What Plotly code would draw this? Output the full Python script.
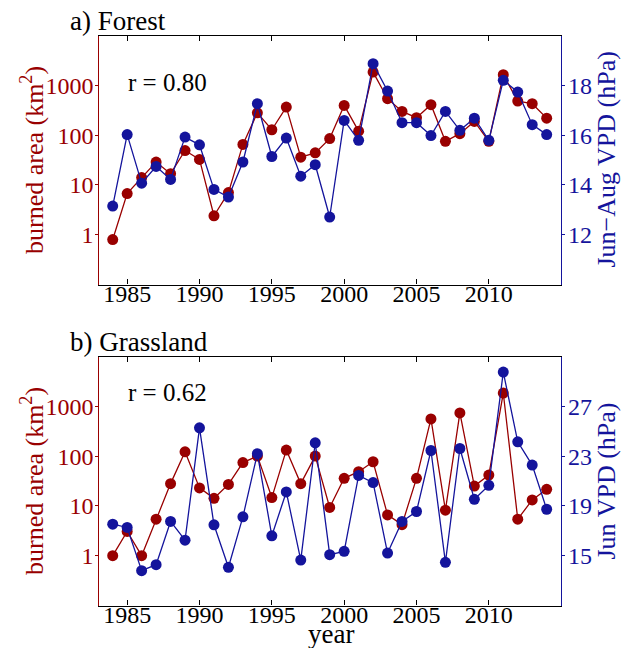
import plotly.graph_objects as go

years = list(range(1984, 2015))

forest_area = [0.8, 6.7, 14, 28.7, 16.8, 49, 32.5, 2.4, 7.0, 65, 280, 128, 365, 36, 44, 85,
               395, 120, 1840, 538, 299, 224, 408, 75, 107, 188, 75, 1633, 482, 427, 219]
forest_vpd = [13.15, 16.02, 14.07, 14.74, 14.22, 15.92, 15.61, 13.82, 13.51, 14.92, 17.26, 15.14,
              15.88, 14.35, 14.81, 12.71, 16.59, 15.79, 18.87, 17.77, 16.5, 16.5, 15.98, 16.95,
              16.19, 16.68, 15.79, 18.2, 17.73, 16.42, 16.02]
grass_area = [1.0, 3.07, 1.0, 5.4, 28, 122, 23, 14.2, 27, 74, 100, 14.7, 132, 28, 100, 9.3,
              35.8, 48.6, 77, 6.6, 4.2, 35.8, 558, 8.2, 736, 25, 41.7, 1848, 5.4, 13.2, 21.5]
grass_vpd = [17.53, 17.27, 13.8, 14.28, 17.75, 16.25, 25.27, 17.48, 14.07, 18.12, 23.19, 16.6,
             20.12, 14.65, 24.07, 15.08, 15.35, 21.45, 20.87, 15.21, 17.75, 18.55, 23.45, 14.47,
             23.61, 19.53, 20.65, 29.75, 24.15, 22.28, 18.73]

x_ticks = [1985, 1990, 1995, 2000, 2005, 2010]
area_ticks = [1, 10, 100, 1000]
area_ticktext = ["1", "10", "100", "1000"]
forest_vpd_ticks = [12, 14, 16, 18]
grass_vpd_ticks = [15, 19, 23, 27]

RED = "#990000"
BLUE = "#14149c"
FONT = "Liberation Serif"
W, H = 628, 648

def px_x(v):
    return v / W

def px_y(v):
    return 1 - v / H

fig = go.Figure()

mk = dict(size=11)
fig.add_trace(go.Scatter(x=years, y=forest_area, mode="lines+markers", line=dict(color=RED, width=1.3),
                         marker=dict(color=RED, **mk), xaxis="x", yaxis="y", showlegend=False))
fig.add_trace(go.Scatter(x=years, y=forest_vpd, mode="lines+markers", line=dict(color=BLUE, width=1.3),
                         marker=dict(color=BLUE, **mk), xaxis="x", yaxis="y2", showlegend=False))
fig.add_trace(go.Scatter(x=years, y=grass_area, mode="lines+markers", line=dict(color=RED, width=1.3),
                         marker=dict(color=RED, **mk), xaxis="x2", yaxis="y3", showlegend=False))
fig.add_trace(go.Scatter(x=years, y=grass_vpd, mode="lines+markers", line=dict(color=BLUE, width=1.3),
                         marker=dict(color=BLUE, **mk), xaxis="x2", yaxis="y4", showlegend=False))

xdom = [px_x(99.4), px_x(561)]
top_dom = [px_y(284.5), px_y(35.5)]
bot_dom = [px_y(605.5), px_y(356.5)]

xcommon = dict(range=[1983.08, 2014.99], tickmode="array", tickvals=x_ticks, ticks="inside",
               ticklen=5, tickcolor="black", showline=True, linecolor="black", linewidth=1.3,
               mirror="ticks", showgrid=False, zeroline=False, ticklabelstandoff=-12,
               tickfont=dict(family=FONT, size=24, color="black"), domain=xdom)

ycommon_left = dict(type="log", range=[-1, 4], tickmode="array", tickvals=area_ticks, ticktext=area_ticktext,
                    ticks="outside", ticklen=3, tickcolor=RED, showline=True, linecolor=RED, linewidth=1.3,
                    showgrid=False, zeroline=False, ticklabelstandoff=-3,
                    tickfont=dict(family=FONT, size=24, color=RED))
ycommon_right = dict(side="right", ticks="outside", ticklen=3, tickcolor=BLUE, showline=True,
                     linecolor=BLUE, linewidth=1.3, showgrid=False, zeroline=False, ticklabelstandoff=-2,
                     tickfont=dict(family=FONT, size=24, color=BLUE), tickmode="array")

fig.update_layout(
    width=W, height=H, margin=dict(l=0, r=0, t=0, b=0),
    paper_bgcolor="white", plot_bgcolor="white",
    xaxis=dict(anchor="y", **xcommon),
    xaxis2=dict(anchor="y3", **xcommon),
    yaxis=dict(anchor="x", domain=top_dom, **ycommon_left),
    yaxis2=dict(anchor="x", overlaying="y", domain=top_dom, range=[10, 20], tickvals=forest_vpd_ticks, **ycommon_right),
    yaxis3=dict(anchor="x2", domain=bot_dom, **ycommon_left),
    yaxis4=dict(anchor="x2", overlaying="y3", domain=bot_dom, range=[11, 31], tickvals=grass_vpd_ticks, **ycommon_right),
)

def ann(text, x, y, size, color="black", xanchor="left", yanchor="middle", angle=0):
    fig.add_annotation(text=text, x=x, y=y, xref="paper", yref="paper", showarrow=False,
                       xanchor=xanchor, yanchor=yanchor, textangle=angle,
                       font=dict(family=FONT, size=size, color=color))

ann("a) Forest", px_x(68), px_y(21), 27)
ann("b) Grassland", px_x(68), px_y(342), 27)
ann("r = 0.80", px_x(126), px_y(82), 25)
ann("r = 0.62", px_x(126), px_y(392.5), 25)
ann("burned area (km<sup>2</sup>)", px_x(32), px_y(160), 26, RED, xanchor="center", angle=-90)
ann("burned area (km<sup>2</sup>)", px_x(32), px_y(481), 26, RED, xanchor="center", angle=-90)
ann("Jun−Aug VPD (hPa)", px_x(605.5), px_y(160), 26, BLUE, xanchor="center", angle=-90)
ann("Jun VPD (hPa)", px_x(605.5), px_y(481), 26, BLUE, xanchor="center", angle=-90)
ann("year", px_x(331), px_y(634), 27, xanchor="center")

fig.write_html("out.html", config={"displayModeBar": False},
               post_script="document.body.style.margin='0';document.body.style.overflow='hidden';")
